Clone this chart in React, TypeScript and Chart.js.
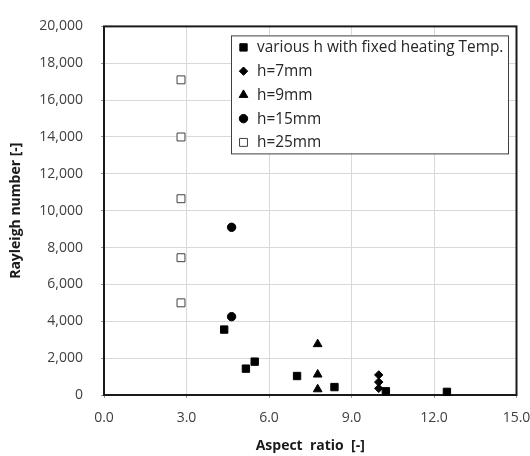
import React, { useEffect, useRef } from 'react';
import { Chart, registerables } from 'chart.js';

Chart.register(...registerables);

// ---- data ----
const seriesLabels = ['various h with fixed heating Temp.', 'h=7mm', 'h=9mm', 'h=15mm', 'h=25mm'];

const variousX = [4.37, 5.16, 5.48, 7.02, 8.38, 10.25, 12.47];
const variousY = [3550, 1430, 1810, 1030, 430, 200, 170];

const h7X = [9.99, 9.99, 9.99];
const h7Y = [1090, 700, 360];

const h9X = [7.77, 7.77, 7.77];
const h9Y = [2760, 1110, 310];

const h15X = [4.64, 4.64];
const h15Y = [9100, 4250];

const h25X = [2.8, 2.8, 2.8, 2.8, 2.8];
const h25Y = [17100, 14000, 10650, 7450, 5000];

const xAxisTitle = 'Aspect  ratio  [-]';
const yAxisTitle = 'Rayleigh number [-]';
const xMin = 0, xMax = 15, xStep = 3;
const yMin = 0, yMax = 20000, yStep = 2000;

const FONT = "'Open Sans', 'Liberation Sans', sans-serif";

const toPoints = (xs: number[], ys: number[]) => xs.map((x, i) => ({ x, y: ys[i] }));

type Marker = { style: string; radius: number; fill: string; stroke: string };

const markers: Marker[] = [
  { style: 'rect', radius: 5.2, fill: '#000000', stroke: '#000000' },
  { style: 'rectRot', radius: 4.2, fill: '#000000', stroke: '#000000' },
  { style: 'triangle', radius: 5, fill: '#000000', stroke: '#000000' },
  { style: 'circle', radius: 4.2, fill: '#000000', stroke: '#000000' },
  { style: 'rect', radius: 5.6, fill: '#ffffff', stroke: '#404040' },
];

function drawMarker(ctx: CanvasRenderingContext2D, m: Marker, x: number, y: number) {
  const r = m.radius;
  ctx.save();
  ctx.fillStyle = m.fill;
  ctx.strokeStyle = m.stroke;
  ctx.lineWidth = 1;
  ctx.beginPath();
  if (m.style === 'rect') {
    const s = Math.SQRT1_2 * r;
    ctx.rect(x - s, y - s, 2 * s, 2 * s);
  } else if (m.style === 'rectRot') {
    ctx.moveTo(x, y - r);
    ctx.lineTo(x + r, y);
    ctx.lineTo(x, y + r);
    ctx.lineTo(x - r, y);
    ctx.closePath();
  } else if (m.style === 'triangle') {
    const a = (2 * Math.PI) / 3;
    ctx.moveTo(x, y - r);
    ctx.lineTo(x + Math.sin(a) * r, y - Math.cos(a) * r);
    ctx.lineTo(x + Math.sin(2 * a) * r, y - Math.cos(2 * a) * r);
    ctx.closePath();
  } else {
    ctx.arc(x, y, r, 0, Math.PI * 2);
  }
  ctx.fill();
  ctx.stroke();
  ctx.restore();
}

const framePlugin = {
  id: 'frame',
  beforeDatasetsDraw(chart: any) {
    const { ctx, chartArea: a } = chart;
    ctx.save();
    ctx.strokeStyle = '#1a1a1a';
    ctx.lineWidth = 2;
    ctx.strokeRect(a.left, a.top, a.right - a.left, a.bottom - a.top);
    ctx.restore();
  },
};

const boxLegendPlugin = {
  id: 'boxLegend',
  afterDraw(chart: any) {
    const { ctx, chartArea: a } = chart;
    const left = a.left + 127;
    const top = a.top + 9;
    const width = 277;
    const height = 118;
    ctx.save();
    ctx.fillStyle = '#ffffff';
    ctx.fillRect(left, top, width, height);
    ctx.strokeStyle = '#404040';
    ctx.lineWidth = 1;
    ctx.strokeRect(left + 0.5, top + 0.5, width, height);
    ctx.font = `15.4px ${FONT}`;
    ctx.fillStyle = '#262626';
    ctx.textBaseline = 'middle';
    ctx.textAlign = 'left';
    chart.data.datasets.forEach((ds: any, i: number) => {
      const y = top + 12 + i * 23.75;
      drawMarker(ctx, markers[i], left + 12.5, y);
      ctx.fillText(ds.label, left + 26, y + 0.5);
    });
    ctx.restore();
  },
};

export default function App() {
  const canvasRef = useRef<HTMLCanvasElement | null>(null);

  useEffect(() => {
    const canvas = canvasRef.current;
    if (!canvas) return;
    const seriesData = [
      toPoints(variousX, variousY),
      toPoints(h7X, h7Y),
      toPoints(h9X, h9Y),
      toPoints(h15X, h15Y),
      toPoints(h25X, h25Y),
    ];
    const chart = new Chart(canvas, {
      type: 'scatter',
      data: {
        datasets: seriesLabels.map((label, i) => ({
          label,
          data: seriesData[i],
          pointStyle: markers[i].style as any,
          pointRadius: markers[i].radius,
          pointHoverRadius: markers[i].radius,
          backgroundColor: markers[i].fill,
          borderColor: markers[i].stroke,
          pointBorderWidth: 1,
          borderWidth: 1,
          clip: false as any,
        })),
      },
      options: {
        responsive: false,
        animation: false,
        devicePixelRatio: 1,
        layout: { padding: { top: 13, right: 13.5, left: 0, bottom: 0 } },
        plugins: {
          legend: { display: false },
          tooltip: { enabled: false },
        },
        scales: {
          x: {
            type: 'linear',
            min: xMin,
            max: xMax,
            afterFit: (s: any) => {
              s.height = 61;
              s.paddingLeft = 0;
              s.paddingRight = 0;
            },
            ticks: {
              stepSize: xStep,
              padding: 12,
              color: '#404040',
              font: { family: FONT, size: 14 },
              callback: (v: any) => Number(v).toFixed(1),
            },
            grid: { color: '#d9d9d9', lineWidth: 1, tickLength: 3, tickColor: '#9a9a9a' },
            border: { display: false },
            title: {
              display: true,
              text: xAxisTitle,
              color: '#1a1a1a',
              font: { family: FONT, size: 14, weight: 'bold' },
              padding: { top: 0, bottom: 2 },
            },
          },
          y: {
            type: 'linear',
            min: yMin,
            max: yMax,
            afterFit: (s: any) => {
              s.width = 104;
            },
            ticks: {
              stepSize: yStep,
              padding: 18,
              color: '#404040',
              font: { family: FONT, size: 14 },
              callback: (v: any) => Number(v).toLocaleString('en-US'),
            },
            grid: { color: '#d9d9d9', lineWidth: 1, tickLength: 3, tickColor: '#9a9a9a' },
            border: { display: false },
            title: {
              display: true,
              text: yAxisTitle,
              color: '#1a1a1a',
              font: { family: FONT, size: 14, weight: 'bold' },
              padding: { top: 8, bottom: 0 },
            },
          },
        },
      },
      plugins: [framePlugin, boxLegendPlugin],
    });
    return () => chart.destroy();
  }, []);

  return (
    <div style={{ position: 'absolute', left: 0, top: 0, width: 530, height: 456, background: '#ffffff' }}>
      <canvas ref={canvasRef} width={530} height={456} style={{ display: 'block', width: 530, height: 456 }} />
    </div>
  );
}
